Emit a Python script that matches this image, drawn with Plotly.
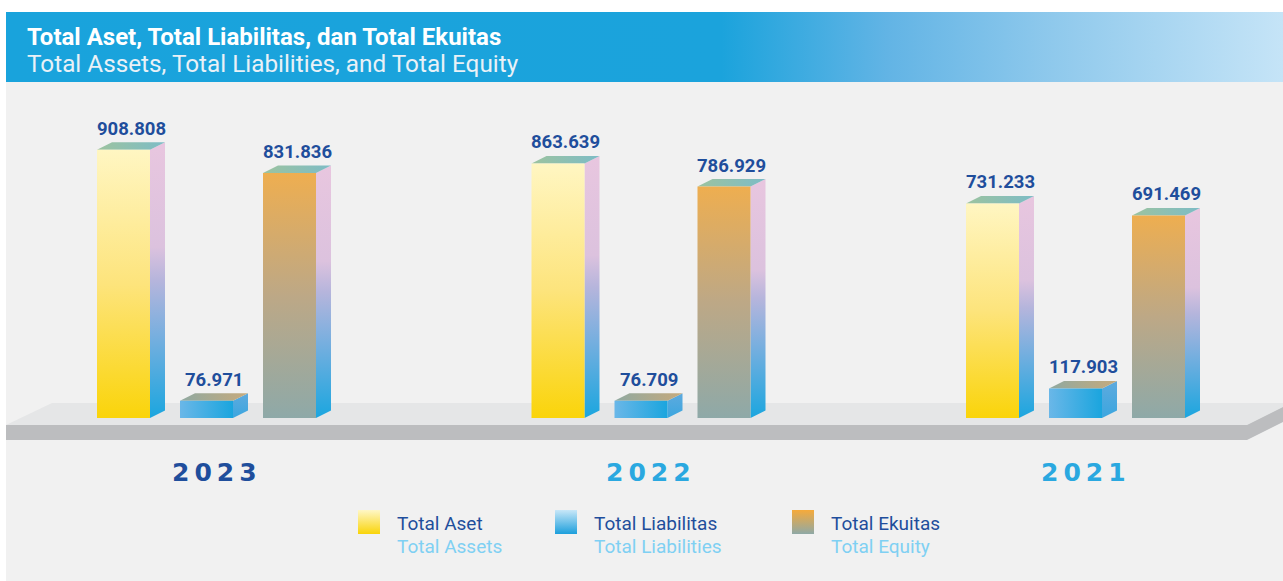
import plotly.graph_objects as go

# ---------------- data ----------------
years = ["2023", "2022", "2021"]
total_aset = [908.808, 863.639, 731.233]
total_liabilitas = [76.971, 76.709, 117.903]
total_ekuitas = [831.836, 786.929, 691.469]
series_id = ["Total Aset", "Total Liabilitas", "Total Ekuitas"]
series_en = ["Total Assets", "Total Liabilities", "Total Equity"]
title_id = "Total Aset, Total Liabilitas, dan Total Ekuitas"
title_en = "Total Assets, Total Liabilities, and Total Equity"

# ---------------- layout constants (pixels) ----------------
W, H = 1283, 581
GROUP_PX = 434.5        # pixel step between year groups
CENTER0_PX = 206.5      # pixel x of the centre of the first group's middle bar
PX_PER_UNIT = 0.3017    # vertical pixels per value unit
ZERO_PY = 424           # pixel y of value 0
BASE = 20               # bars stand on the platform (value units hidden in it)
BAR_W = 53 / GROUP_PX
PITCH = 83 / GROUP_PX
DX = 15 / GROUP_PX
DY = 7.5 / PX_PER_UNIT

NAVY = "#1f4e9c"
LIGHT = "#2aa8e0"


def px(x):
    return x / W


def py(y):
    return 1 - y / H


styles = [
    dict(  # Total Aset
        front=dict(type="vertical", colorscale=[[0, "#fad40a"], [0.5, "#fde47c"], [1, "#fff6c2"]]),
        side=[[0, "#1ba6df"], [0.3, "#78afdf"], [0.5, "#b6b5dc"], [0.62, "#dcc2de"], [1, "#e8c6df"]],
        top=[[0, "#9cc39f"], [1, "#7dbcc6"]],
    ),
    dict(  # Total Liabilitas
        front=dict(type="horizontal", colorscale=[[0, "#6ab7e8"], [1, "#1aa5de"]]),
        side=[[0, "#3ba6df"], [1, "#5eaade"]],
        top=[[0, "#8fa9a1"], [1, "#c6aa7c"]],
    ),
    dict(  # Total Ekuitas
        front=dict(type="vertical", colorscale=[[0, "#8ea9a8"], [0.5, "#bda886"], [1, "#eeae50"]]),
        side=[[0, "#1ba6df"], [0.3, "#78afdf"], [0.5, "#b6b5dc"], [0.62, "#dcc2de"], [1, "#e8c6df"]],
        top=[[0, "#9cc39f"], [1, "#7dbcc6"]],
    ),
]

fig = go.Figure()

# ---------------- decorations: header gradient ----------------
fig.add_trace(go.Scatter(
    x=[6, W, W, 6, 6], y=[12, 12, 82, 82, 12], xaxis="x2", yaxis="y2",
    mode="lines", line=dict(width=0), fill="toself",
    fillgradient=dict(type="horizontal", start=6, stop=W,
                      colorscale=[[0, "#19a3dc"], [0.56, "#1ba3dc"], [0.69, "#62b4e5"],
                                  [0.82, "#8fc9ec"], [1, "#c5e4f7"]]),
    hoverinfo="skip", showlegend=False))

# ---------------- bars ----------------
all_series = [total_aset, total_liabilitas, total_ekuitas]
annotations = []
for k, vals in enumerate(all_series):
    st = styles[k]
    for i, v in enumerate(vals):
        x0 = i + (k - 1) * PITCH - BAR_W / 2
        x1 = x0 + BAR_W
        # side face
        fig.add_trace(go.Scatter(
            x=[x1, x1 + DX, x1 + DX, x1, x1], y=[BASE, BASE + DY, v + DY, v, BASE],
            mode="lines", line=dict(width=0), fill="toself",
            fillgradient=dict(type="vertical", start=BASE, stop=v + DY, colorscale=st["side"]),
            hoverinfo="skip", showlegend=False))
        # top face
        fig.add_trace(go.Scatter(
            x=[x0, x1, x1 + DX, x0 + DX, x0], y=[v, v, v + DY, v + DY, v],
            mode="lines", line=dict(width=0), fill="toself",
            fillgradient=dict(type="horizontal", start=x0, stop=x1 + DX, colorscale=st["top"]),
            hoverinfo="skip", showlegend=False))
        # front face
        fg = dict(st["front"])
        if fg["type"] == "vertical":
            fg.update(start=BASE, stop=v)
        else:
            fg.update(start=x0, stop=x1)
        fig.add_trace(go.Scatter(
            x=[x0, x1, x1, x0, x0], y=[BASE, BASE, v, v, BASE],
            mode="lines", line=dict(width=0), fill="toself", fillgradient=fg,
            name=series_id[k], hoverinfo="skip", showlegend=False))
        annotations.append(dict(
            x=(x0 + x1 + DX) / 2, y=v, xref="x", yref="y", text=f"<b>{v:.3f}</b>",
            showarrow=False, yanchor="middle", yshift=21,
            font=dict(family="Roboto", size=18.5, color=NAVY)))

# ---------------- year labels ----------------
for i, yr in enumerate(years):
    annotations.append(dict(
        x=i + 7.5 / GROUP_PX, y=py(472), xref="x", yref="paper",
        text="<b>" + "\u2009".join(yr) + "</b>", showarrow=False, yanchor="middle",
        font=dict(family="DejaVu Sans", size=25, color=NAVY if i == 0 else LIGHT)))

# ---------------- title ----------------
annotations.append(dict(x=px(25), y=py(37), xref="paper", yref="paper", text="<b>" + title_id + "</b>",
                        showarrow=False, xanchor="left", yanchor="middle",
                        font=dict(family="Roboto", size=24, color="white")))
annotations.append(dict(x=px(25), y=py(64), xref="paper", yref="paper", text=title_en,
                        showarrow=False, xanchor="left", yanchor="middle",
                        font=dict(family="Roboto", size=24.3, color="#e9f1f7")))

# ---------------- legend ----------------
legend_x = [358, 555, 792]
legend_scales = [
    [[0, "#fff7c6"], [1, "#f9d409"]],
    [[0, "#c8e7f8"], [1, "#1c9fdc"]],
    [[0, "#f6aa3a"], [1, "#8fa9a6"]],
]
for k in range(3):
    lx = legend_x[k]
    fig.add_trace(go.Scatter(
        x=[lx, lx + 22, lx + 22, lx, lx], y=[510, 510, 534, 534, 510], xaxis="x2", yaxis="y2",
        mode="lines", line=dict(width=0), fill="toself",
        fillgradient=dict(type="vertical", start=510, stop=534, colorscale=legend_scales[k]),
        hoverinfo="skip", showlegend=False))
    annotations.append(dict(x=px(lx + 37), y=py(523), xref="paper", yref="paper", text=series_id[k],
                            showarrow=False, xanchor="left", yanchor="middle",
                            font=dict(family="Roboto", size=19, color=NAVY)))
    annotations.append(dict(x=px(lx + 37), y=py(546), xref="paper", yref="paper", text=series_en[k],
                            showarrow=False, xanchor="left", yanchor="middle",
                            font=dict(family="Roboto", size=19, color="#7fd0f3")))

# ---------------- background & platform shapes ----------------
def path(points):
    return "M " + " L ".join(f"{px(a):.5f},{py(b):.5f}" for a, b in points) + " Z"

shapes = [
    dict(type="rect", xref="paper", yref="paper", x0=px(6), x1=1, y0=0, y1=py(82),
         fillcolor="#f1f1f1", line=dict(width=0), layer="below"),
    # platform top surface
    dict(type="path", xref="paper", yref="paper", layer="below", line=dict(width=0),
         fillcolor="#e5e6e7",
         path=path([(6, 425), (52, 403), (W, 403), (W, 407), (1247, 425)])),
    # platform front strip
    dict(type="path", xref="paper", yref="paper", layer="below", line=dict(width=0),
         fillcolor="#bcbdbf",
         path=path([(6, 425), (1247, 425), (1247, 440), (6, 440)])),
    # platform right side
    dict(type="path", xref="paper", yref="paper", layer="below", line=dict(width=0),
         fillcolor="#bcbdbf",
         path=path([(1247, 425), (W, 407), (W, 422), (1247, 440)])),
]

fig.update_layout(
    width=W, height=H, autosize=False,
    margin=dict(l=0, r=0, t=0, b=0),
    paper_bgcolor="white", plot_bgcolor="rgba(0,0,0,0)",
    showlegend=False,
    xaxis=dict(range=[-CENTER0_PX / GROUP_PX, (W - CENTER0_PX) / GROUP_PX], visible=False, fixedrange=True),
    yaxis=dict(range=[-(H - ZERO_PY) / PX_PER_UNIT, ZERO_PY / PX_PER_UNIT], visible=False, fixedrange=True),
    xaxis2=dict(range=[0, W], overlaying="x", visible=False, fixedrange=True),
    yaxis2=dict(range=[H, 0], overlaying="y", visible=False, fixedrange=True),
    shapes=shapes,
    annotations=annotations,
)

fig.write_html(
    "out.html",
    config=dict(displayModeBar=False),
    post_script="document.body.style.margin='0';document.body.style.overflow='hidden';",
)
